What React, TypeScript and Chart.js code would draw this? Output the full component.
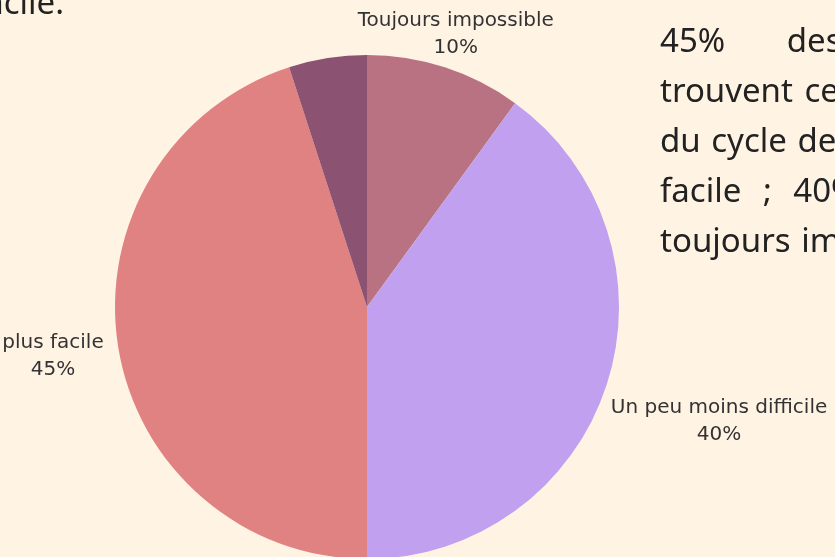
import React, { useEffect, useRef } from "react";
import { Chart, registerables } from "chart.js";

Chart.register(...registerables);

const categories = ["Toujours impossible", "Un peu moins difficile", "plus facile", "Toujours aussi difficile"];
const values = [10, 40, 45, 5];
const sliceColors = ["#B97282", "#C0A0EF", "#E08282", "#8B5272"];
const paragraphLines = [
  { text: "45% des répondants", ws: 53 },
  { text: "trouvent cette étape", ws: 3 },
  { text: "du cycle de vie plus", ws: 2 },
  { text: "facile ; 40% un peu", ws: 13 },
  { text: "toujours impossible.", ws: 2 },
];

const BG = "#FFF3E4";
const LABEL_FONT = '20px "DejaVu Sans"';

const outLabels = {
  id: "outLabels",
  afterDatasetsDraw(chart: any) {
    const ctx = chart.ctx;
    const meta = chart.getDatasetMeta(0);
    ctx.save();
    ctx.font = LABEL_FONT;
    ctx.fillStyle = "#333333";
    ctx.textAlign = "center";
    ctx.textBaseline = "middle";
    meta.data.forEach((arc: any, i: number) => {
      if (values[i] < 8) return;
      const p = arc.getProps(["x", "y", "startAngle", "endAngle", "outerRadius"], true);
      const mid = (p.startAngle + p.endAngle) / 2;
      const dx = Math.cos(mid);
      const dy = Math.sin(mid);
      const lines = [categories[i], values[i] + "%"];
      const w = Math.max(...lines.map((l) => ctx.measureText(l).width));
      const d = Math.abs(dx) * (w / 2 + 16);
      const cx = p.x + dx * (p.outerRadius + d);
      const cy = p.y + dy * (p.outerRadius + d);
      ctx.fillText(lines[0], cx, cy - 13.5);
      ctx.fillText(lines[1], cx, cy + 13.5);
    });
    ctx.restore();
  },
};

export default function App() {
  const ref = useRef<HTMLCanvasElement>(null);
  useEffect(() => {
    if (!ref.current) return;
    const chart = new Chart(ref.current, {
      type: "pie",
      data: {
        labels: categories,
        datasets: [
          {
            data: values,
            backgroundColor: sliceColors,
            borderWidth: 0,
          },
        ],
      },
      options: {
        animation: false,
        responsive: false,
        layout: { padding: { top: 55, bottom: 61, left: 115, right: 216 } },
        plugins: { legend: { display: false }, tooltip: { enabled: false } },
      },
      plugins: [outLabels],
    });
    return () => chart.destroy();
  }, []);

  const textStyle: React.CSSProperties = {
    fontFamily: '"Noto Sans", sans-serif',
    fontSize: 33,
    lineHeight: "50px",
    color: "#222222",
    whiteSpace: "nowrap",
  };

  return (
    <div
      style={{
        position: "fixed",
        left: 0,
        top: 0,
        width: 835,
        height: 557,
        overflow: "hidden",
        background: BG,
      }}
    >
      <canvas
        ref={ref}
        width={835}
        height={620}
        style={{ position: "absolute", left: 0, top: 0, width: 835, height: 620 }}
      />
      <div style={{ ...textStyle, position: "absolute", left: -236, top: -23, width: 300, textAlign: "right" }}>
        plus facile.
      </div>
      <div style={{ ...textStyle, position: "absolute", left: 660, top: 15 }}>
        {paragraphLines.map((l, i) => (
          <div key={i} style={{ wordSpacing: l.ws }}>
            {l.text}
          </div>
        ))}
      </div>
    </div>
  );
}
